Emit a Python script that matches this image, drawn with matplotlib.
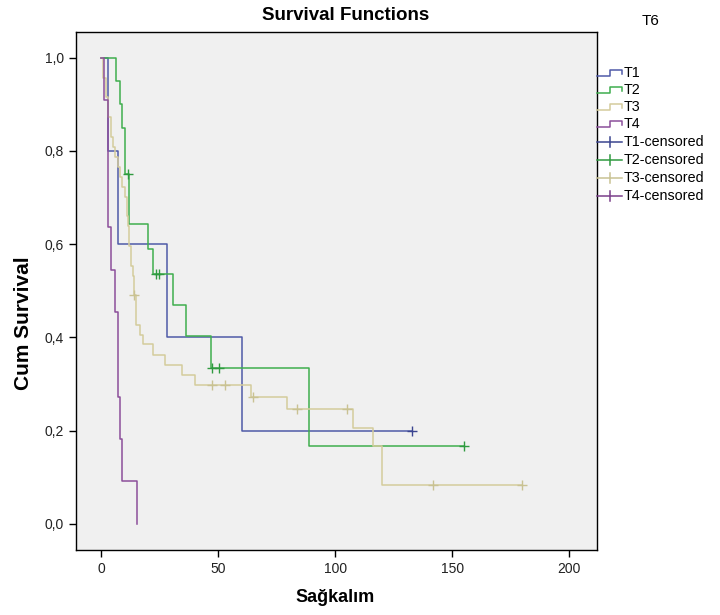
import matplotlib
matplotlib.use("Agg")
import matplotlib.pyplot as plt
from matplotlib.lines import Line2D
from matplotlib.ticker import FuncFormatter

plt.rcParams['font.family'] = ['Liberation Sans', 'DejaVu Sans']

# ---- data ----
groups = ["T1", "T2", "T3", "T4"]

t1_time = [0, 3, 7, 28.2, 60, 133]
t1_surv = [1.0, 0.8, 0.6, 0.4, 0.2, 0.2]
t1_cens_time = [133]
t1_cens_surv = [0.2]

t2_time = [0, 6.1, 7.9, 8.7, 10.1, 11.9, 20.1, 22.2, 30.8, 36.2, 46.7, 88.9, 155]
t2_surv = [1.0, 0.95, 0.90, 0.85, 0.75, 0.643, 0.589, 0.536, 0.469, 0.402, 0.335, 0.167, 0.167]
t2_cens_time = [11.5, 23.2, 24.6, 47.5, 50.2, 155]
t2_cens_surv = [0.75, 0.536, 0.536, 0.335, 0.335, 0.167]

t3_time = [0, 0.8, 1.8, 3.0, 4.0, 5.0, 6.0, 7.0, 8.0, 9.0, 10.0, 10.8, 11.5, 12.0, 12.7,
           13.3, 13.8, 14.7, 16.6, 17.9, 22.0, 27.0, 34.5, 40.0, 64.0, 79.3, 107.7, 116.0,
           120.0, 180.0]
t3_surv = [1.0, 0.957, 0.915, 0.872, 0.830, 0.809, 0.787, 0.766, 0.745, 0.723, 0.702, 0.660,
           0.638, 0.596, 0.553, 0.532, 0.490, 0.427, 0.406, 0.385, 0.362, 0.341, 0.319, 0.298,
           0.273, 0.246, 0.205, 0.166, 0.083, 0.083]
t3_cens_time = [14.1, 47.2, 53.0, 64.8, 83.8, 104.9, 142.0, 180.0]
t3_cens_surv = [0.490, 0.298, 0.298, 0.273, 0.246, 0.246, 0.083, 0.083]

t4_time = [0, 1, 2.95, 4.0, 6.0, 7.0, 8.1, 9.0, 15.1]
t4_surv = [1.0, 0.909, 0.636, 0.545, 0.455, 0.273, 0.182, 0.091, 0.0]
t4_cens_time = []
t4_cens_surv = []

x_ticks = [0, 50, 100, 150, 200]
y_ticks = [0.0, 0.2, 0.4, 0.6, 0.8, 1.0]

line_colors = ["#4f5aa8", "#3fae4e", "#d4cc9c", "#8c4f9b"]
cens_colors = ["#3b4590", "#2f9a40", "#c9c293", "#7a3f8a"]

series = [
    (t1_time, t1_surv, t1_cens_time, t1_cens_surv),
    (t2_time, t2_surv, t2_cens_time, t2_cens_surv),
    (t3_time, t3_surv, t3_cens_time, t3_cens_surv),
    (t4_time, t4_surv, t4_cens_time, t4_cens_surv),
]

W, H = 720, 615
fig = plt.figure(figsize=(W / 100, H / 100), dpi=100)
fig.patch.set_facecolor("white")


def fx(px):
    return px / W


def fy(py):
    return 1 - py / H


ax = fig.add_axes([fx(75.7), fy(550), fx(597) - fx(75.7), fy(32) - fy(550)])
ax.set_facecolor("#f0f0f0")

for (tt, ss, ct, cs), lc, cc in zip(series, line_colors, cens_colors):
    ax.step(tt, ss, where="post", color=lc, lw=1.1, zorder=3)
    if ct:
        ax.plot(ct, cs, linestyle="none", marker="+", markersize=7, mew=1.0, color=cc, zorder=4)

ax.set_xlim(-11, 212)
ax.set_ylim(-0.056, 1.055)
ax.set_xticks(x_ticks)
ax.set_yticks(y_ticks)
ax.yaxis.set_major_formatter(FuncFormatter(lambda v, p: f"{v:.1f}".replace(".", ",")))
ax.tick_params(direction="out", length=5, width=1, labelsize=10, colors="black",
               labelcolor="#222222")
for sp in ax.spines.values():
    sp.set_color("black")
    sp.set_linewidth(1.0)

fig.text(fx(346), fy(15), "Survival Functions", fontsize=13.5, fontweight="bold",
         ha="center", va="center")
fig.text(fx(335), fy(598), "Sağkalım", fontsize=13, fontweight="bold",
         ha="center", va="center")
fig.text(fx(24), fy(323), "Cum Survival", fontsize=15, fontweight="bold",
         ha="center", va="center", rotation=90)

# ---- legend, drawn manually to mimic SPSS ----
fig.text(fx(651), fy(21), "T6", fontsize=11, ha="center", va="center")
labels = groups + [g + "-censored" for g in groups]
row_y = [73, 90, 107, 124, 142, 160, 178, 196]
for i, lab in enumerate(labels):
    y = row_y[i]
    if i < 4:
        c = line_colors[i]
        xs = [597, 610, 610, 622, 622]
        ys = [y + 3, y + 3, y - 3, y - 3, y + 1]
        fig.add_artist(Line2D([fx(v) for v in xs], [fy(v) for v in ys], color=c, lw=1.1))
    else:
        c = cens_colors[i - 4]
        fig.add_artist(Line2D([fx(597), fx(622)], [fy(y), fy(y)], color=c, lw=1.1))
        fig.add_artist(Line2D([fx(609.5), fx(609.5)], [fy(y - 5), fy(y + 5)], color=c, lw=1.1))
    fig.text(fx(624), fy(y), lab, fontsize=10.3, ha="left", va="center")

fig.savefig("out.png", dpi=100)
